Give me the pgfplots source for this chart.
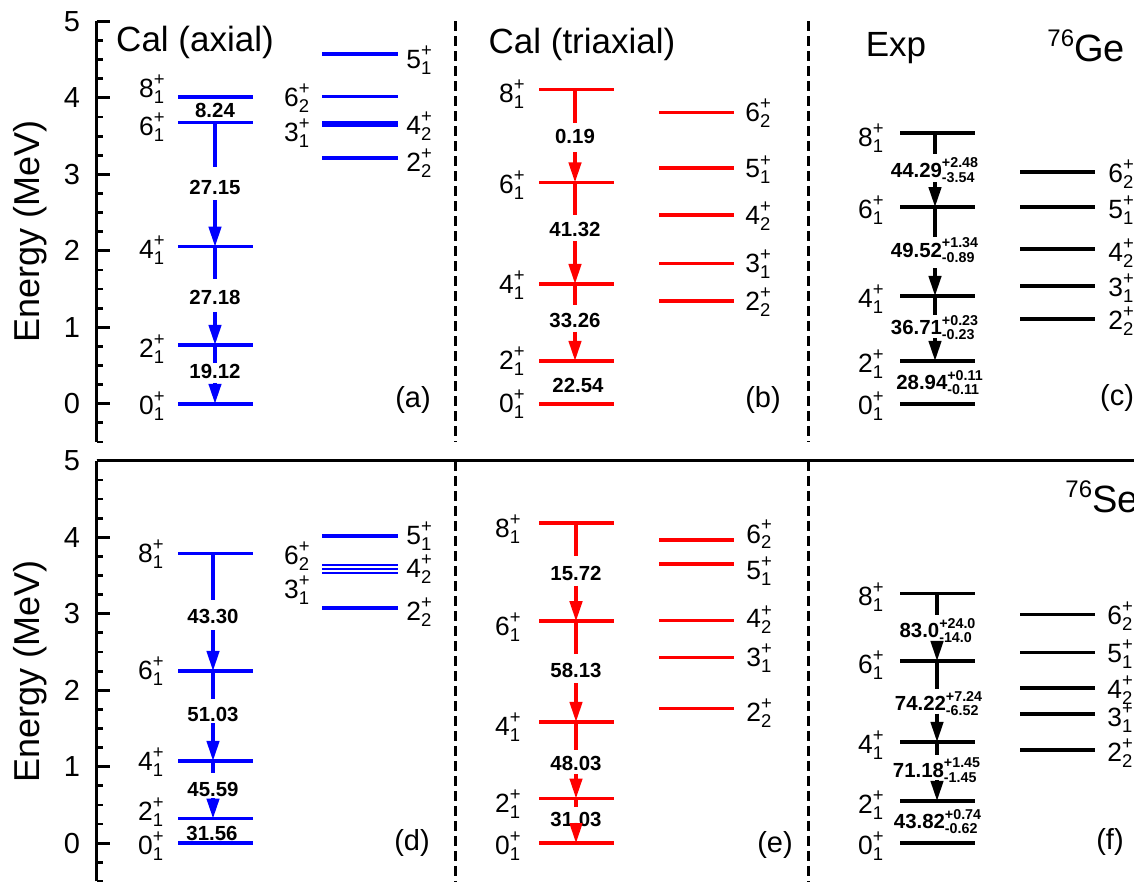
\documentclass[border=0pt]{standalone}
\usepackage{fontspec}
\setmainfont{Liberation Sans}
\usepackage{amsmath}
\usepackage{pgfplots}
\pgfplotsset{compat=1.18}
\usetikzlibrary{arrows.meta}
\definecolor{cb}{RGB}{0,0,255}
\definecolor{cr}{RGB}{255,0,0}
% level: color, x1, x2, E
\newcommand{\myLv}[4]{\addplot[#1, line width=1.8pt, line cap=butt] coordinates {(#2,#4) (#3,#4)};}
\newcommand{\myLt}[4]{\addplot[#1, line width=1.2pt, line cap=butt] coordinates {(#2,#4) (#3,#4)};}
% segment: color, x, E1, E2
\newcommand{\mySg}[4]{\addplot[#1, line width=1.6pt] coordinates {(#2,#3) (#2,#4)};}
\newcommand{\myAr}[4]{\addplot[#1, line width=1.6pt, -{Triangle[length=10pt,width=6.2pt]}] coordinates {(#2,#3) (#2,#4)};}
\newcommand{\myTv}[3]{\node[tval] at (axis cs:#1,#2) {#3};}
\newcommand{\myTe}[5]{\node[tval] at (axis cs:#1,#2) {$\text{\bfseries #3}^{\text{\bfseries #4}}_{\text{\bfseries #5}}$};}
\newcommand{\mySL}[4]{\node[spin, anchor=base east] at (axis cs:#1,#2) {$\text{#3}^{\text{+}}_{\text{#4}}$};}
\newcommand{\mySR}[4]{\node[spin, anchor=base west] at (axis cs:#1,#2) {$\text{#3}^{\text{+}}_{\text{#4}}$};}
\tikzset{
  tval/.style={font=\fontsize{10.2}{12}\selectfont\bfseries, inner sep=0pt},
  spin/.style={font=\fontsize{13.2}{15}\selectfont, inner sep=0pt, yshift=-4.7pt},
  ttl/.style={font=\fontsize{17.5}{20}\selectfont, inner sep=0pt},
  plab/.style={font=\fontsize{14.5}{16}\selectfont, inner sep=0pt},
}
\pgfplotsset{panel/.style={
  scale only axis, width=518.75pt, height=210.3pt,
  xmin=96.5, xmax=1134, ymin=-0.5, ymax=5, clip=false,
  axis y line=left,
  xtick=\empty, ytick={0,1,2,3,4,5}, minor ytick={-0.5,-0.25,...,4.75},
  tick align=inside, ytick pos=left,
  axis line style={-, line width=1.6pt, black},
  major tick length=6.5pt, minor tick length=3.2pt,
  tick style={black, line width=1.4pt},
  yticklabel style={font=\fontsize{14.5}{16}\selectfont, inner sep=0pt, xshift=-8pt},
  /pgf/number format/assume math mode=true,
  ylabel={Energy (MeV)},
  ylabel style={font=\fontsize{18}{20}\selectfont, at={(axis description cs:-0.0636,0.5)}, anchor=center},
}}
\begin{document}
\begin{tikzpicture}
\useasboundingbox (0,0) rectangle (567pt,441pt);
\clip (0,0) rectangle (567pt,441pt);
% ================= TOP ROW (76Ge) =================
\begin{axis}[panel, at={(48.25pt,220pt)}, anchor=south west, axis x line=none]
\addplot[black, line width=1.5pt, dash pattern=on 5pt off 2.5pt] coordinates {(455,5) (455,-0.5)};
\addplot[black, line width=1.5pt, dash pattern=on 5pt off 2.5pt] coordinates {(808,5) (808,-0.5)};
% (a) axial
\myLv{cb}{178}{253}{0}
\myLv{cb}{178}{253}{0.770}
\myLv{cb}{178}{253}{2.054}
\myLv{cb}{178}{253}{3.680}
\myLv{cb}{178}{253}{4.008}
\myLv{cb}{322}{398}{4.573}
\myLv{cb}{322}{398}{4.020}
\myLv{cb}{322}{398}{3.675}
\myLv{cb}{322}{398}{3.640}
\myLv{cb}{322}{398}{3.215}
\myTv{215}{3.838}{8.24}
\mySg{cb}{215}{3.680}{3.094}
\myAr{cb}{215}{2.663}{2.054}
\myTv{215}{2.833}{27.15}
\mySg{cb}{215}{2.054}{1.632}
\myAr{cb}{215}{1.201}{0.770}
\myTv{215}{1.384}{27.18}
\mySg{cb}{215}{0.770}{0.535}
\myAr{cb}{215}{0.274}{0}
\myTv{215}{0.418}{19.12}
\mySL{166}{4.125}{8}{1}
\mySL{166}{3.629}{6}{1}
\mySL{166}{2.023}{4}{1}
\mySL{166}{0.731}{2}{1}
\mySL{166}{-0.013}{0}{1}
\mySR{406}{4.504}{5}{1}
\mySL{311}{4.008}{6}{2}
\mySR{406}{3.642}{4}{2}
\mySL{311}{3.551}{3}{1}
\mySR{406}{3.159}{2}{2}
\node[ttl] at (axis cs:195,4.719) {Cal (axial)};
\node[plab] at (axis cs:413,0.052) {(a)};
% (b) triaxial
\myLv{cr}{539}{614}{0}
\myLv{cr}{539}{614}{0.561}
\myLv{cr}{539}{614}{1.567}
\myLv{cr}{539}{614}{2.894}
\myLv{cr}{539}{614}{4.108}
\myLv{cr}{659}{734}{3.808}
\myLv{cr}{659}{734}{3.085}
\myLv{cr}{659}{734}{2.467}
\myLv{cr}{659}{734}{1.836}
\myLv{cr}{659}{734}{1.345}
\mySg{cr}{575}{4.108}{3.668}
\myAr{cr}{575}{3.290}{2.894}
\myTv{575}{3.490}{0.19}
\mySg{cr}{575}{2.894}{2.467}
\myAr{cr}{575}{2.128}{1.567}
\myTv{575}{2.285}{41.32}
\mySg{cr}{575}{1.567}{1.292}
\myAr{cr}{575}{0.940}{0.561}
\myTv{575}{1.084}{33.26}
\myTv{578}{0.239}{22.54}
\mySL{526}{4.056}{8}{1}
\mySL{526}{2.872}{6}{1}
\mySL{526}{1.567}{4}{1}
\mySL{526}{0.574}{2}{1}
\mySL{526}{0.009}{0}{1}
\mySR{745}{3.816}{6}{2}
\mySR{745}{3.077}{5}{1}
\mySR{745}{2.467}{4}{2}
\mySR{745}{1.841}{3}{1}
\mySR{745}{1.347}{2}{2}
\node[ttl] at (axis cs:582,4.699) {Cal (triaxial)};
\node[plab] at (axis cs:763,0.052) {(b)};
% (c) Exp
\myLv{black}{900}{975}{0}
\myLv{black}{900}{975}{0.561}
\myLv{black}{900}{975}{1.410}
\myLv{black}{900}{975}{2.572}
\myLv{black}{900}{975}{3.538}
\myLv{black}{1020}{1095}{3.029}
\myLv{black}{1020}{1095}{2.572}
\myLv{black}{1020}{1095}{2.024}
\myLv{black}{1020}{1095}{1.540}
\myLv{black}{1020}{1095}{1.106}
\mySg{black}{935}{3.538}{3.264}
\myAr{black}{935}{2.898}{2.572}
\myTe{935}{3.055}{44.29}{+2.48}{-3.54}
\mySg{black}{935}{2.572}{2.184}
\myAr{black}{935}{1.775}{1.410}
\myTe{935}{2.010}{49.52}{+1.34}{-0.89}
\mySg{black}{935}{1.410}{1.162}
\myAr{black}{935}{0.862}{0.561}
\myTe{935}{0.992}{36.71}{+0.23}{-0.23}
\myTe{940}{0.274}{28.94}{+0.11}{-0.11}
\mySL{885}{3.490}{8}{1}
\mySL{885}{2.546}{6}{1}
\mySL{885}{1.384}{4}{1}
\mySL{885}{0.535}{2}{1}
\mySL{885}{-0.013}{0}{1}
\mySR{1108}{3.012}{6}{2}
\mySR{1108}{2.546}{5}{1}
\mySR{1108}{1.984}{4}{2}
\mySR{1108}{1.521}{3}{1}
\mySR{1108}{1.097}{2}{2}
\node[ttl] at (axis cs:896,4.648) {Exp};
\node[inner sep=0pt, anchor=base west, font=\fontsize{19}{22}\selectfont] at (axis cs:1047,4.475) {\raisebox{7.5pt}{\fontsize{12}{14}\selectfont 76}Ge};
\node[plab] at (axis cs:1117,0.078) {(c)};
\end{axis}
% ================= BOTTOM ROW (76Se) =================
\begin{axis}[panel, at={(48.25pt,0.3pt)}, anchor=south west, axis x line*=top]
\addplot[black, line width=1.5pt, dash pattern=on 5pt off 2.5pt] coordinates {(455,5) (455,-0.6)};
\addplot[black, line width=1.5pt, dash pattern=on 5pt off 2.5pt] coordinates {(808,5) (808,-0.6)};
% (d) axial
\myLv{cb}{178}{253}{0}
\myLv{cb}{178}{253}{0.322}
\myLv{cb}{178}{253}{1.076}
\myLv{cb}{178}{253}{2.252}
\myLv{cb}{178}{253}{3.787}
\myLv{cb}{322}{398}{4.017}
\myLt{cb}{322}{398}{3.634}
\myLt{cb}{322}{398}{3.582}
\myLt{cb}{322}{398}{3.529}
\myLv{cb}{322}{398}{3.076}
\mySg{cb}{213}{3.787}{3.176}
\myAr{cb}{213}{2.784}{2.252}
\myTv{213}{2.967}{43.30}
\mySg{cb}{213}{2.252}{1.891}
\myAr{cb}{213}{1.565}{1.076}
\myTv{213}{1.682}{51.03}
\mySg{cb}{213}{1.076}{0.911}
\myTv{213}{0.702}{45.59}
\myAr{cb}{213}{0.588}{0.322}
\myTv{212}{0.127}{31.56}
\mySL{165}{3.787}{8}{1}
\mySL{165}{2.261}{6}{1}
\mySL{165}{1.074}{4}{1}
\mySL{165}{0.421}{2}{1}
\mySL{165}{-0.026}{0}{1}
\mySR{406}{4.026}{5}{1}
\mySL{311}{3.765}{6}{2}
\mySR{406}{3.601}{4}{2}
\mySL{311}{3.320}{3}{1}
\mySR{406}{3.033}{2}{2}
\node[plab] at (axis cs:412,0) {(d)};
% (e) triaxial
\myLv{cr}{539}{614}{0}
\myLv{cr}{539}{614}{0.584}
\myLv{cr}{539}{614}{1.586}
\myLv{cr}{539}{614}{2.902}
\myLv{cr}{539}{614}{4.187}
\myLv{cr}{659}{734}{3.961}
\myLv{cr}{659}{734}{3.647}
\myLv{cr}{659}{734}{2.911}
\myLv{cr}{659}{734}{2.427}
\myLv{cr}{659}{734}{1.761}
\mySg{cr}{576}{4.187}{3.752}
\myAr{cr}{576}{3.363}{2.902}
\myTv{576}{3.533}{15.72}
\mySg{cr}{576}{2.902}{2.480}
\myAr{cr}{576}{2.088}{1.586}
\myTv{576}{2.261}{58.13}
\mySg{cr}{576}{1.586}{1.216}
\myAr{cr}{576}{0.898}{0.584}
\myTv{576}{1.042}{48.03}
\mySg{cr}{576}{0.584}{0.475}
\myTv{576}{0.310}{31.03}
\myAr{cr}{576}{0.265}{0}
\mySL{522}{4.114}{8}{1}
\mySL{522}{2.839}{6}{1}
\mySL{522}{1.532}{4}{1}
\mySL{522}{0.519}{2}{1}
\mySL{522}{-0.026}{0}{1}
\mySR{746}{4.048}{6}{2}
\mySR{746}{3.569}{5}{1}
\mySR{746}{2.937}{4}{2}
\mySR{746}{2.435}{3}{1}
\mySR{746}{1.716}{2}{2}
\node[plab] at (axis cs:775,-0.026) {(e)};
% (f) Exp
\myLv{black}{900}{975}{0}
\myLv{black}{900}{975}{0.553}
\myLv{black}{900}{975}{1.324}
\myLv{black}{900}{975}{2.383}
\myLv{black}{900}{975}{3.264}
\myLv{black}{1020}{1095}{2.989}
\myLv{black}{1020}{1095}{2.493}
\myLv{black}{1020}{1095}{2.026}
\myLv{black}{1020}{1095}{1.686}
\myLv{black}{1020}{1095}{1.216}
\mySg{black}{937}{3.264}{2.980}
\myAr{black}{937}{2.631}{2.383}
\myTe{938}{2.784}{83.0}{+24.0}{-14.0}
\mySg{black}{937}{2.383}{2.022}
\myAr{black}{937}{1.695}{1.324}
\myTe{939}{1.826}{74.22}{+7.24}{-6.52}
\mySg{black}{937}{1.324}{1.150}
\myAr{black}{937}{0.824}{0.553}
\myTe{937}{0.954}{71.18}{+1.45}{-1.45}
\myTe{938}{0.278}{43.82}{+0.74}{-0.62}
\mySL{885}{3.231}{8}{1}
\mySL{885}{2.340}{6}{1}
\mySL{885}{1.294}{4}{1}
\mySL{885}{0.510}{2}{1}
\mySL{885}{-0.026}{0}{1}
\mySR{1107}{2.980}{6}{2}
\mySR{1107}{2.490}{5}{1}
\mySR{1107}{2.013}{4}{2}
\mySR{1107}{1.651}{3}{1}
\mySR{1107}{1.193}{2}{2}
\node[inner sep=0pt, anchor=base west, font=\fontsize{19}{22}\selectfont] at (axis cs:1065,4.327) {\raisebox{7.5pt}{\fontsize{12}{14}\selectfont 76}Se};
\node[plab] at (axis cs:1110,0.013) {(f)};
\end{axis}
\end{tikzpicture}
\end{document}
